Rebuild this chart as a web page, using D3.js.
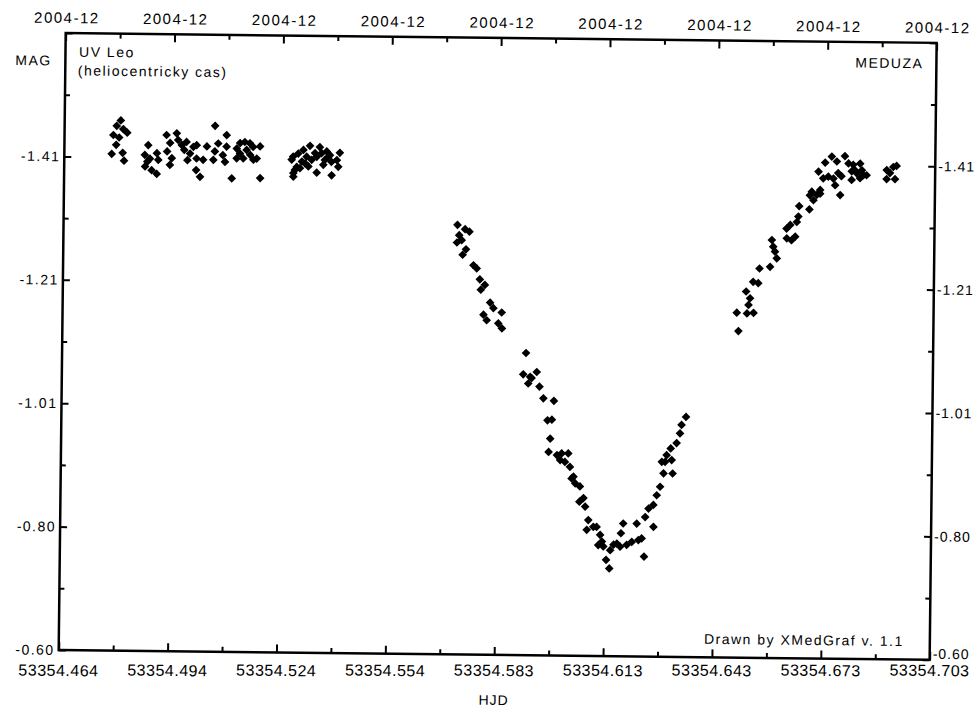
<!DOCTYPE html>
<html>
<head>
<meta charset="utf-8">
<script src="https://cdn.jsdelivr.net/npm/d3@7"></script>
<style>
  body { margin: 0; background: #fff; }
  svg { display: block; font-family: "Liberation Sans", Arial, sans-serif; }
</style>
</head>
<body>
<svg id="chart"></svg>
<script>
// UV Leo, heliocentric time (HJD) vs. magnitude
const hjd = [
  53354.4794, 53354.4783, 53354.4801, 53354.4812, 53354.4774, 53354.4790, 53354.4782, 53354.4770, 53354.4800, 53354.4804,
  53354.4870, 53354.4861, 53354.4875, 53354.4868, 53354.4894, 53354.4898, 53354.4862, 53354.4880, 53354.4894, 53354.4920,
  53354.4930, 53354.4922, 53354.4935, 53354.4930, 53354.4948, 53354.4952, 53354.4962, 53354.4975, 53354.4969, 53354.4985,
  53354.4978, 53354.4994, 53354.5003, 53354.5003, 53354.5021, 53354.5002, 53354.5013, 53354.5031, 53354.5053, 53354.5062,
  53354.5053, 53354.5049, 53354.5075, 53354.5085, 53354.5085, 53354.5081, 53354.5100, 53354.5113, 53354.5122, 53354.5135,
  53354.5140, 53354.5150, 53354.5158, 53354.5168, 53354.5177, 53354.5131, 53354.5113, 53354.5159, 53354.5178, 53354.5149,
  53354.5122,
  53354.5268, 53354.5264, 53354.5282, 53354.5296, 53354.5314, 53354.5341, 53354.5328, 53354.5305, 53354.5292, 53354.5278,
  53354.5269, 53354.5273, 53354.5287, 53354.5301, 53354.5319, 53354.5333, 53354.5346, 53354.5360, 53354.5369, 53354.5355,
  53354.5373, 53354.5333, 53354.5396, 53354.5388, 53354.5392, 53354.5374, 53354.5364, 53354.5351, 53354.5310, 53354.5269,
  53354.5721, 53354.5742, 53354.5754, 53354.5726, 53354.5733, 53354.5720, 53354.5745, 53354.5736, 53354.5766, 53354.5775,
  53354.5784, 53354.5798, 53354.5787, 53354.5813, 53354.5822, 53354.5845, 53354.5795, 53354.5804, 53354.5836, 53354.5846,
  53354.5913, 53354.5906, 53354.5925, 53354.5943, 53354.5929, 53354.5920, 53354.5951, 53354.5962, 53354.5991, 53354.5974,
  53354.5986, 53354.5982,
  53354.5978, 53354.6001, 53354.6014, 53354.6032, 53354.6010, 53354.6023, 53354.6037, 53354.6042, 53354.6052, 53354.6065,
  53354.6064, 53354.6080, 53354.6089, 53354.6085, 53354.6103, 53354.6112, 53354.6122, 53354.6117, 53354.6131, 53354.6150,
  53354.6159, 53354.6168, 53354.6177, 53354.6195, 53354.6209, 53354.6227, 53354.6139, 53354.6148, 53354.6185, 53354.6179,
  53354.6243, 53354.6222, 53354.6236, 53354.6245, 53354.6268, 53354.6254, 53354.6267, 53354.6276, 53354.6285, 53354.6294,
  53354.6319, 53354.6298, 53354.6316, 53354.6302, 53354.6313, 53354.6329, 53354.6338, 53354.6342, 53354.6354, 53354.6047,
  53354.6075, 53354.6127, 53354.6289,
  53354.6495, 53354.6490, 53354.6518, 53354.6536, 53354.6522, 53354.6526, 53354.6515, 53354.6534, 53354.6548, 53354.6551,
  53354.6580, 53354.6598, 53354.6593, 53354.6588, 53354.6584, 53354.6625, 53354.6638, 53354.6648, 53354.6624, 53354.6634,
  53354.6652, 53354.6656, 53354.6658, 53354.6686, 53354.6697, 53354.6706, 53354.6692, 53354.6715, 53354.6687, 53354.6710,
  53354.6728, 53354.6746, 53354.6760, 53354.6723, 53354.6737, 53354.6751, 53354.6764, 53354.6773, 53354.6756, 53354.6770,
  53354.6782, 53354.6792, 53354.6805, 53354.6824, 53354.6801, 53354.6815, 53354.6833, 53354.6842, 53354.6824, 53354.6801,
  53354.6810, 53354.6897, 53354.6915, 53354.6924, 53354.6906, 53354.6897, 53354.6920, 53354.6715, 53354.6829
];
const mag = [
  -1.470, -1.461, -1.456, -1.450, -1.446, -1.442, -1.430, -1.415, -1.417, -1.404,
  -1.430, -1.414, -1.408, -1.403, -1.417, -1.406, -1.395, -1.389, -1.383, -1.447,
  -1.434, -1.420, -1.409, -1.398, -1.450, -1.439, -1.431, -1.436, -1.423, -1.417,
  -1.406, -1.428, -1.431, -1.409, -1.407, -1.390, -1.379, -1.429, -1.463, -1.434,
  -1.421, -1.407, -1.415, -1.448, -1.429, -1.404, -1.377, -1.426, -1.418, -1.437,
  -1.424, -1.416, -1.429, -1.410, -1.430, -1.410, -1.410, -1.408, -1.378, -1.435,
  -1.435,
  -1.414, -1.409, -1.419, -1.425, -1.432, -1.430, -1.420, -1.414, -1.406, -1.397,
  -1.387, -1.392, -1.395, -1.403, -1.409, -1.414, -1.420, -1.423, -1.417, -1.409,
  -1.406, -1.388, -1.421, -1.409, -1.398, -1.384, -1.414, -1.401, -1.398, -1.381,
  -1.305, -1.298, -1.294, -1.288, -1.280, -1.276, -1.265, -1.256, -1.239, -1.234,
  -1.216, -1.207, -1.199, -1.178, -1.169, -1.162, -1.158, -1.149, -1.144, -1.136,
  -1.096, -1.061, -1.057, -1.065, -1.055, -1.046, -1.041, -1.022, -1.018, -0.986,
  -0.987, -0.956,
  -0.934, -0.929, -0.932, -0.932, -0.921, -0.918, -0.910, -0.891, -0.883, -0.878,
  -0.853, -0.845, -0.823, -0.807, -0.812, -0.812, -0.799, -0.782, -0.780, -0.774,
  -0.783, -0.785, -0.780, -0.783, -0.788, -0.791, -0.758, -0.744, -0.818, -0.802,
  -0.764, -0.818, -0.794, -0.829, -0.813, -0.843, -0.849, -0.865, -0.879, -0.901,
  -0.901, -0.920, -0.923, -0.931, -0.942, -0.951, -0.967, -0.981, -0.994, -0.894,
  -0.859, -0.788, -0.920,
  -1.136, -1.166, -1.165, -1.166, -1.179, -1.190, -1.201, -1.217, -1.215, -1.239,
  -1.242, -1.256, -1.267, -1.275, -1.286, -1.289, -1.286, -1.292, -1.305, -1.311,
  -1.316, -1.325, -1.342, -1.337, -1.352, -1.361, -1.366, -1.369, -1.360, -1.399,
  -1.414, -1.424, -1.416, -1.388, -1.391, -1.388, -1.397, -1.392, -1.377, -1.361,
  -1.425, -1.413, -1.411, -1.413, -1.400, -1.397, -1.394, -1.394, -1.389, -1.386,
  -1.402, -1.403, -1.408, -1.410, -1.398, -1.388, -1.388, -1.363, -1.402
];

const xDomain = [53354.464, 53354.703];
const yDomain = [-1.6125, -0.60];
const xTickLabels = ['53354.464', '53354.494', '53354.524', '53354.554', '53354.583',
                     '53354.613', '53354.643', '53354.673', '53354.703'];
const topTickLabels = ['2004-12', '2004-12', '2004-12', '2004-12', '2004-12',
                       '2004-12', '2004-12', '2004-12', '2004-12'];
const yTickValues = [-0.60, -0.8025, -1.005, -1.2075, -1.41, -1.6125];
const yTickLabels = ['-0.60', '-0.80', '-1.01', '-1.21', '-1.41', ''];

const W = 977, H = 707;
const width = 871, height = 617;
const angle = 0.65; // the scanned page sits slightly crooked
const sinA = Math.sin(angle * Math.PI / 180);

const data = hjd.map((t, i) => ({ t, m: mag[i] }));

const x = d3.scaleLinear().domain(xDomain).range([0, width]);
const y = d3.scaleLinear().domain(yDomain).range([0, height]);

const xMajor = xTickLabels.map((d, i) => xDomain[0] + i * (xDomain[1] - xDomain[0]) / 8);
const xMinor = d3.range(8).map(i => xDomain[0] + (i + 0.5) * (xDomain[1] - xDomain[0]) / 8);
const yMinor = d3.range(5).map(i => yTickValues[i] + (yTickValues[i + 1] - yTickValues[i]) / 2);

const svg = d3.select('#chart')
  .attr('width', W)
  .attr('height', H);

svg.append('rect').attr('width', W).attr('height', H).attr('fill', '#fff');

const g = svg.append('g')
  .attr('transform', `translate(65.7,33) rotate(${angle})`);

// ticks, all pointing into the plot
const tickAxis = (axis, tr, vals, size) => {
  const a = g.append('g')
    .attr('transform', tr)
    .call(axis.tickValues(vals).tickSize(size).tickSizeOuter(0).tickFormat(() => ''));
  a.select('.domain').remove();
  a.selectAll('line').attr('stroke', '#000').attr('stroke-width', 2);
};
tickAxis(d3.axisTop(x), `translate(0,${height})`, xMajor, 8);
tickAxis(d3.axisTop(x), `translate(0,${height})`, xMinor, 5);
tickAxis(d3.axisBottom(x), 'translate(0,0)', xMajor, 8);
tickAxis(d3.axisBottom(x), 'translate(0,0)', xMinor, 5);
tickAxis(d3.axisRight(y), 'translate(0,0)', yTickValues, 7);
tickAxis(d3.axisRight(y), 'translate(0,0)', yMinor, 5);
tickAxis(d3.axisLeft(y), `translate(${width},0)`, yTickValues, 7);
tickAxis(d3.axisLeft(y), `translate(${width},0)`, yMinor, 5);

// frame
g.append('rect')
  .attr('width', width)
  .attr('height', height)
  .attr('fill', 'none')
  .attr('stroke', '#000')
  .attr('stroke-width', 2.5);

// points
const diamond = d3.symbol().type(d3.symbolSquare).size(38);
g.append('g')
  .selectAll('path')
  .data(data)
  .join('path')
  .attr('d', diamond)
  .attr('transform', d => `translate(${x(d.t)},${y(d.m)}) rotate(45)`)
  .attr('fill', '#000');

// bottom tick labels (printed level on the page)
g.append('g')
  .selectAll('text')
  .data(xTickLabels)
  .join('text')
  .attr('x', (d, i) => x(xMajor[i]))
  .attr('y', (d, i) => 643 - sinA * x(xMajor[i]))
  .attr('text-anchor', 'middle')
  .attr('font-size', 16)
  .attr('letter-spacing', 0.5)
  .text(d => d);

// top tick labels
g.append('g')
  .selectAll('text')
  .data(topTickLabels)
  .join('text')
  .attr('x', (d, i) => x(xMajor[i]) + 1)
  .attr('y', -10)
  .attr('text-anchor', 'middle')
  .attr('font-size', 15)
  .attr('letter-spacing', 1.5)
  .text(d => d);

// left and right value labels
const yLab = yTickLabels.slice(0, 5);
g.append('g')
  .selectAll('text')
  .data(yLab)
  .join('text')
  .attr('x', -4)
  .attr('y', (d, i) => y(yTickValues[i]))
  .attr('dy', '0.35em')
  .attr('text-anchor', 'end')
  .attr('font-size', 14)
  .attr('letter-spacing', 1.5)
  .text(d => d);

g.append('g')
  .selectAll('text')
  .data(yLab)
  .join('text')
  .attr('x', width + 3)
  .attr('y', (d, i) => y(yTickValues[i]) - (i === 0 ? 6 : 0))
  .attr('dy', '0.35em')
  .attr('text-anchor', 'start')
  .attr('font-size', 14)
  .attr('letter-spacing', 1)
  .text(d => d);

// captions
const label = (txt, px, py, anchor, size, ls) => g.append('text')
  .attr('x', px).attr('y', py)
  .attr('text-anchor', anchor)
  .attr('font-size', size)
  .attr('letter-spacing', ls)
  .text(txt);

label('MAG', -50, 32.6, 'start', 14, 1.5);
label('UV Leo', 13.6, 23.5, 'start', 14, 1.5);
label('(heliocentricky cas)', 12.5, 42.3, 'start', 14, 1.5);
label('MEDUZA', 858, 25.6, 'end', 14, 1.5);
label('Drawn by XMedGraf v. 1.1', 845, 603.5, 'end', 14, 1.5);
label('HJD', width / 2, 667, 'middle', 14, 1);
</script>
</body>
</html>
